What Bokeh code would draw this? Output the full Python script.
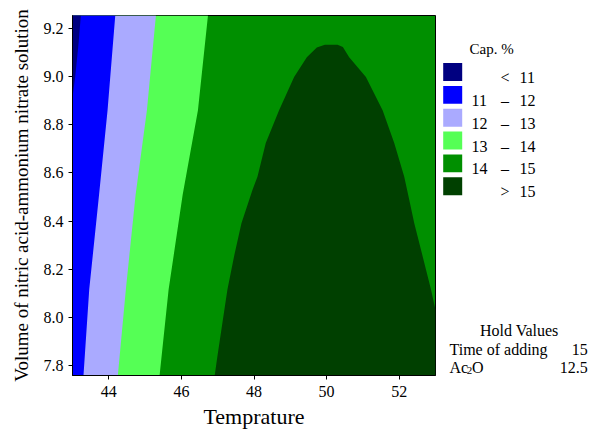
from bokeh.plotting import figure
from bokeh.layouts import row
from bokeh.models import Range1d, FixedTicker, PrintfTickFormatter
from bokeh.embed import file_html
from bokeh.resources import INLINE
from bokeh.core.properties import value

# ---------------- data ----------------
x_min, x_max = 43.0, 53.0
y_min, y_max = 7.758, 9.254
x_ticks = [44, 46, 48, 50, 52]
y_ticks = [7.8, 8.0, 8.2, 8.4, 8.6, 8.8, 9.0, 9.2]

# contour boundaries: temperature at given volume
v_b11 = [8.915, 8.998, 9.137, 9.254]
t_b11 = [43.0, 43.074, 43.166, 43.23]

v_b12 = [7.759, 8.115, 8.508, 8.860, 9.254]
t_b12 = [43.303, 43.461, 43.731, 43.966, 44.178]

v_b13 = [7.759, 8.115, 8.508, 8.860, 9.254]
t_b13 = [44.250, 44.470, 44.738, 45.050, 45.298]

v_b14 = [7.759, 8.115, 8.508, 8.860, 9.254]
t_b14 = [45.400, 45.648, 46.034, 46.456, 46.732]

# > 15 region boundary (left foot -> apex -> right edge)
t_b15 = [46.917, 46.992, 47.130, 47.268, 47.450, 47.654, 47.957, 48.095, 48.324,
         48.691, 49.105, 49.455, 49.731, 49.952, 50.302, 50.448, 50.622, 51.083,
         51.543, 51.863, 52.139, 52.277, 52.415, 52.647, 52.876, 53.0]
v_b15 = [7.758, 7.838, 7.977, 8.115, 8.253, 8.391, 8.529, 8.584, 8.724,
         8.860, 8.998, 9.081, 9.121, 9.132, 9.132, 9.123, 9.081, 8.998,
         8.860, 8.724, 8.584, 8.488, 8.391, 8.253, 8.115, 8.03]

legend_colors = ["#000080", "#0000FF", "#AAAAFF", "#55FF55", "#008F00", "#004000"]
legend_lo = ["", "11", "12", "13", "14", ""]
legend_sep = ["<", "–", "–", "–", "–", ">"]
legend_hi = ["11", "12", "13", "14", "15", "15"]

hold_names = ["Time of adding"]
hold_vals = ["15", "12.5"]

FONT = "Liberation Serif"

# ---------------- main plot ----------------
p = figure(width=440, height=431, output_backend="svg", toolbar_location=None,
           x_range=Range1d(x_min, x_max), y_range=Range1d(y_min, y_max),
           min_border_left=72, min_border_right=5, min_border_top=15,
           min_border_bottom=55)
p.background_fill_color = legend_colors[4]
p.border_fill_color = "white"
p.outline_line_color = "black"
p.outline_line_width = 1
p.grid.visible = False

p.harea(y=v_b14, x1=x_min, x2=t_b14, fill_color=legend_colors[3])
p.harea(y=v_b13, x1=x_min, x2=t_b13, fill_color=legend_colors[2])
p.harea(y=v_b12, x1=x_min, x2=t_b12, fill_color=legend_colors[1])
p.harea(y=v_b11, x1=x_min, x2=t_b11, fill_color=legend_colors[0])
p.patch(x=t_b15 + [x_max], y=v_b15 + [y_min], fill_color=legend_colors[5],
        line_color=None)

p.xaxis.ticker = FixedTicker(ticks=x_ticks)
p.yaxis.ticker = FixedTicker(ticks=y_ticks)
p.yaxis.formatter = PrintfTickFormatter(format="%.1f")
p.xaxis.axis_label = "Temprature"
p.yaxis.axis_label = "Volume of nitric acid-ammonium nitrate solution"
for ax in (p.xaxis, p.yaxis):
    ax.major_label_text_font = FONT
    ax.major_label_text_font_size = "16px"
    ax.major_label_text_color = "black"
    ax.axis_label_text_font = FONT
    ax.axis_label_text_font_style = "normal"
    ax.axis_label_text_color = "black"
    ax.major_tick_out = 4
    ax.major_tick_in = 0
    ax.minor_tick_out = 0
    ax.minor_tick_in = 0
    ax.axis_line_color = "black"
    ax.major_tick_line_color = "black"
p.xaxis.axis_label_text_font_size = "22px"
p.yaxis.axis_label_text_font_size = "19px"
p.xaxis.major_label_standoff = 6
p.xaxis.axis_label_standoff = 4
p.yaxis.major_label_standoff = 5
p.yaxis.axis_label_standoff = 9

# ---------------- side panel (legend + hold values), page pixel coords ----------------
q = figure(width=151, height=431, output_backend="svg", toolbar_location=None,
           x_range=Range1d(440, 591), y_range=Range1d(376, 15),
           x_axis_location=None, y_axis_location=None,
           min_border_left=0, min_border_right=0, min_border_top=15,
           min_border_bottom=55)
q.outline_line_color = None
q.grid.visible = False
q.background_fill_color = "white"
q.border_fill_color = "white"

n = len(legend_colors)
row_y = [71.7 + i * 22.9 for i in range(n)]
q.rect(x=[452.2] * n, y=row_y, width=19, height=18, fill_color=legend_colors,
       line_color=None)
base_y = [yy + 5.5 for yy in row_y]
q.text(x=[469], y=[48.3], text=["Cap. %"], text_font=value(FONT),
       text_font_size="15px", text_baseline="alphabetic", text_align="left",
       text_color="black")
q.text(x=[471] * n, y=base_y, text=legend_lo, text_font=value(FONT),
       text_font_size="16px", text_baseline="alphabetic", text_align="left",
       text_color="black")
q.text(x=[504.5] * n, y=base_y, text=legend_sep, text_font=value(FONT),
       text_font_size="16px", text_baseline="alphabetic", text_align="center",
       text_color="black")
q.text(x=[519] * n, y=base_y, text=legend_hi, text_font=value(FONT),
       text_font_size="16px", text_baseline="alphabetic", text_align="left",
       text_color="black")

q.text(x=[518.8], y=[331.3], text=["Hold Values"], text_font=value(FONT),
       text_font_size="16px", text_baseline="alphabetic", text_align="center",
       text_color="black")
q.text(x=[449], y=[350], text=hold_names, text_font=value(FONT),
       text_font_size="16px", text_baseline="alphabetic", text_align="left",
       text_color="black")
q.text(x=[449], y=[368.3], text=["Ac"], text_font=value(FONT),
       text_font_size="16px", text_baseline="alphabetic", text_align="left",
       text_color="black")
q.text(x=[466.2], y=[371.3], text=["2"], text_font=value(FONT),
       text_font_size="11px", text_baseline="alphabetic", text_align="left",
       text_color="black")
q.text(x=[471.5], y=[368.3], text=["O"], text_font=value(FONT),
       text_font_size="16px", text_baseline="alphabetic", text_align="left",
       text_color="black")
q.text(x=[587.3, 587.3], y=[350, 368.3], text=hold_vals, text_font=value(FONT),
       text_font_size="16px", text_baseline="alphabetic", text_align="right",
       text_color="black")

layout = row(p, q)
open("out.html", "w").write(file_html(layout, INLINE))
